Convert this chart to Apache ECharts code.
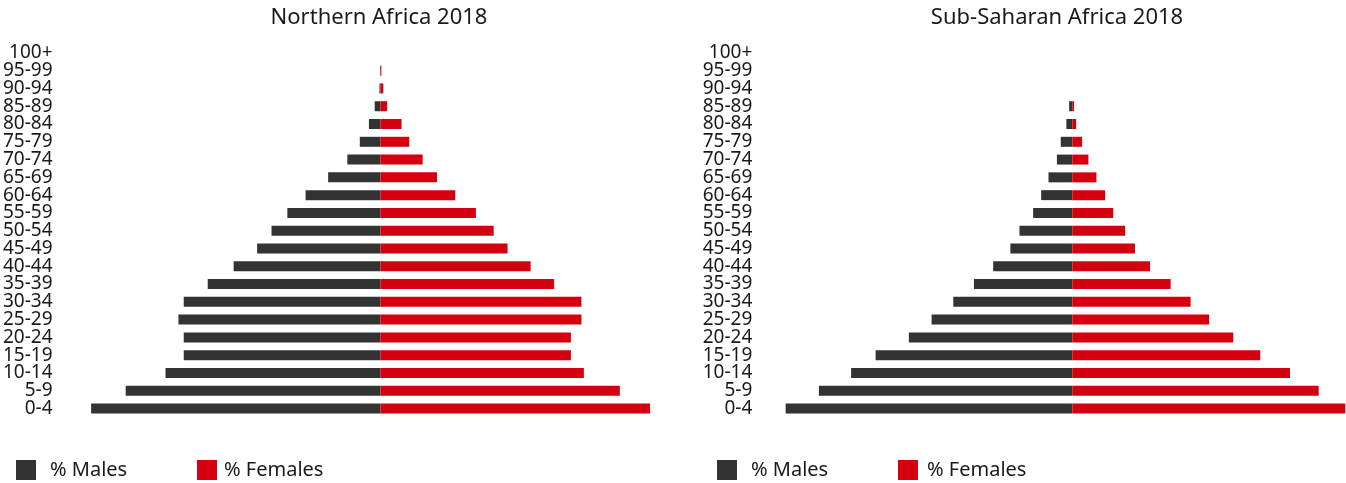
<!DOCTYPE html>
<html>
<head>
<meta charset="utf-8">
<script src="https://cdn.jsdelivr.net/npm/echarts@6.0.0/dist/echarts.min.js"></script>
<style>
  html, body { margin: 0; padding: 0; background: #fff; }
  #pyramid { width: 1346px; height: 483px; }
</style>
</head>
<body>
<div id="pyramid"></div>
<script>
// age groups, bottom to top
const ageGroups = ['0-4', '5-9', '10-14', '15-19', '20-24', '25-29', '30-34', '35-39', '40-44', '45-49',
  '50-54', '55-59', '60-64', '65-69', '70-74', '75-79', '80-84', '85-89', '90-94', '95-99', '100+']

// Northern Africa 2018, % of population
const northMales = [6.03, 5.31, 4.48, 4.10, 4.10, 4.21, 4.10, 3.60, 3.06, 2.57,
  2.27, 1.94, 1.56, 1.09, 0.69, 0.43, 0.24, 0.12, 0.02, 0.01, 0]
const northFemales = [5.62, 4.99, 4.24, 3.97, 3.97, 4.19, 4.19, 3.62, 3.13, 2.65,
  2.36, 1.99, 1.56, 1.18, 0.88, 0.60, 0.44, 0.14, 0.06, 0.02, 0]

// Sub-Saharan Africa 2018, % of population
const subMales = [8.19, 7.24, 6.32, 5.62, 4.67, 4.02, 3.40, 2.81, 2.26, 1.77,
  1.51, 1.12, 0.89, 0.68, 0.44, 0.33, 0.17, 0.09, 0, 0, 0]
const subFemales = [7.80, 7.04, 6.22, 5.37, 4.60, 3.91, 3.38, 2.81, 2.22, 1.79,
  1.51, 1.17, 0.94, 0.69, 0.46, 0.28, 0.11, 0.05, 0, 0, 0]

const titles = ['Northern Africa 2018', 'Sub-Saharan Africa 2018']

const FONT = 'Noto Sans'
const DARK = '#333333'
const RED = '#d5000f'

const chart = echarts.init(document.getElementById('pyramid'))

function valueAxis(gridIndex, min, max) {
  return {
    type: 'value',
    gridIndex: gridIndex,
    min: min,
    max: max,
    show: false,
    splitLine: { show: false }
  }
}

function ageAxis(gridIndex, margin) {
  return {
    type: 'category',
    gridIndex: gridIndex,
    data: ageGroups,
    axisLine: { show: false },
    axisTick: { show: false },
    axisLabel: {
      interval: 0,
      margin: margin,
      color: '#1a1a1a',
      fontFamily: FONT,
      fontSize: 19,
      padding: [8, 0, 0, 0]
    }
  }
}

function barSeries(name, idx, values, color, negative) {
  return {
    name: name,
    type: 'bar',
    xAxisIndex: idx,
    yAxisIndex: idx,
    barWidth: 10,
    barGap: '-100%',
    itemStyle: { color: color },
    emphasis: { disabled: true },
    data: values.map(v => negative ? -v : v)
  }
}

function legendItem(name, left, pad) {
  return {
    data: [name],
    left: left,
    top: 460,
    padding: 0,
    icon: 'rect',
    itemWidth: 20,
    itemHeight: 20,
    selectedMode: false,
    textStyle: {
      color: '#1a1a1a',
      fontFamily: FONT,
      fontSize: 20,
      padding: [0, 0, 0, pad]
    }
  }
}

function titleItem(text, centerX) {
  return {
    text: text,
    left: centerX,
    top: 7,
    textAlign: 'center',
    padding: 0,
    textStyle: { fontFamily: FONT, fontSize: 22, fontWeight: 'normal', color: '#1a1a1a' }
  }
}

chart.setOption({
  animation: false,
  color: [DARK, RED],
  title: [
    titleItem(titles[0], 379),
    titleItem(titles[1], 1057)
  ],
  legend: [
    legendItem('% Males', 16, 9),
    legendItem('% Females', 197, 2),
    legendItem('% Males', 717, 9),
    legendItem('% Females', 898, 4)
  ],
  grid: [
    { left: 68.3, width: 600, top: 44, height: 373.4 },
    { left: 757.3, width: 588, top: 44, height: 373.4 }
  ],
  xAxis: [
    valueAxis(0, -6.5, 6),
    valueAxis(1, -9, 7.8)
  ],
  yAxis: [
    ageAxis(0, 16),
    ageAxis(1, 5)
  ],
  series: [
    barSeries('% Males', 0, northMales, DARK, true),
    barSeries('% Females', 0, northFemales, RED, false),
    barSeries('% Males', 1, subMales, DARK, true),
    barSeries('% Females', 1, subFemales, RED, false)
  ]
})
</script>
</body>
</html>
